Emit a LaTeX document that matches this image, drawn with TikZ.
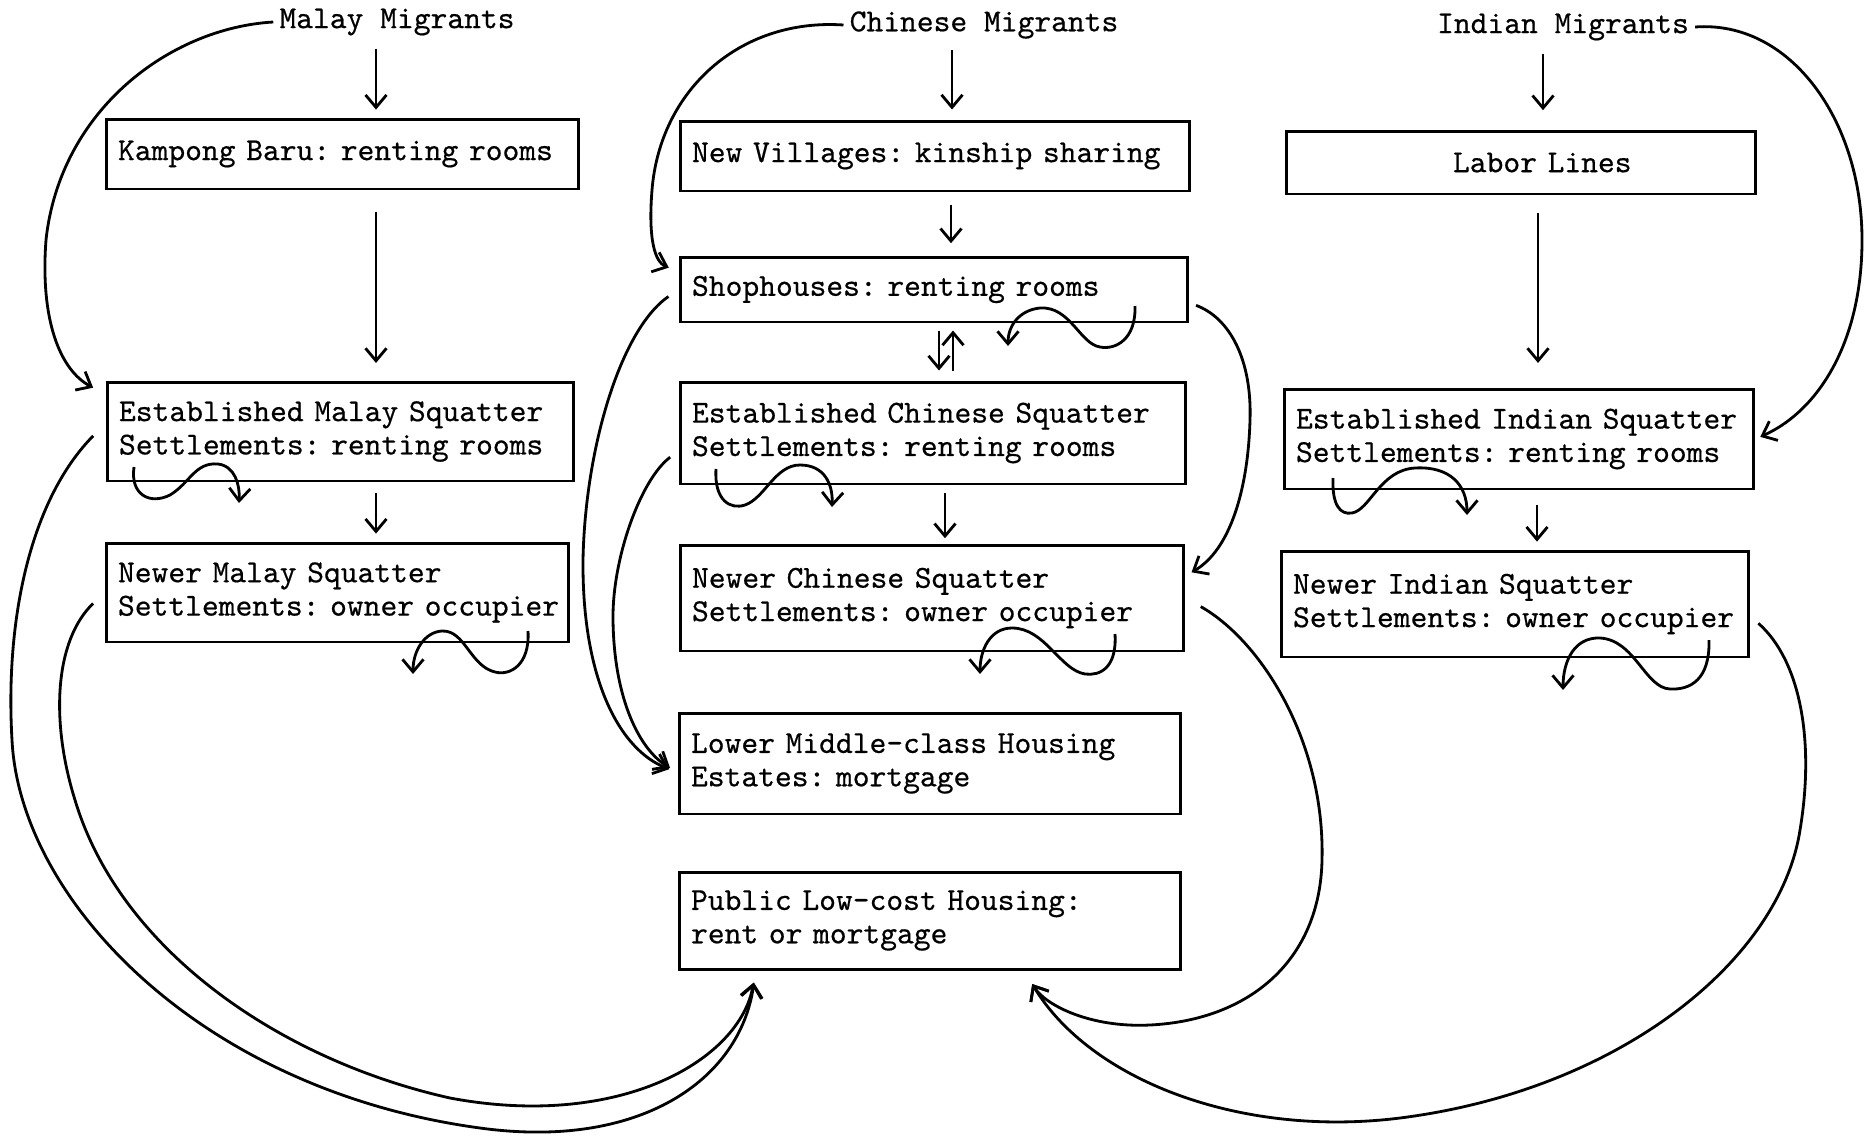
\documentclass[tikz,border=0pt]{standalone}
\usepackage{fontspec}
\setmonofont{lmmono10-regular.otf}[FakeBold=0.5]
\frenchspacing
\usetikzlibrary{arrows.meta}

\begin{document}
\begin{tikzpicture}[x=0.02cm, y=-0.02cm,
    every node/.style={font=\ttfamily\fontsize{18.2}{19}\selectfont},
    house/.style={draw, line width=1.7pt, align=left, inner xsep=0.24cm, inner ysep=0pt},
    flow/.style={line width=1.6pt, -{Straight Barb[length=2.5mm, width=4.2mm]}, shorten <=5pt, shorten >=5pt},
    wiggle/.style={line width=1.6pt, -{Straight Barb[length=2.5mm, width=4.2mm]}}]
\useasboundingbox (0,0) rectangle (1871,1139);

\node (malaymig) at (397,22) {Malay Migrants};
\node (chinmig) at (984,25) {Chinese Migrants};
\node (indmig) at (1563,27) {Indian Migrants};

\node[house, text width=8.98cm, minimum height=1.4cm] (kampong) at (342.5,154) {\mbox{Kampong Baru: renting rooms}};
\node[house, text width=8.86cm, minimum height=1.98cm] (estmalay) at (340.5,431.5) {\mbox{Established Malay Squatter}\\\mbox{Settlements: renting rooms}};
\node[house, text width=8.78cm, minimum height=1.98cm] (newmalay) at (337.5,592.5) {\mbox{Newer Malay Squatter}\\\mbox{Settlements: owner occupier}};

\node[house, text width=9.72cm, minimum height=1.4cm] (newvill) at (935,156) {\mbox{New Villages: kinship sharing}};
\node[house, text width=9.68cm, minimum height=1.3cm] (shop) at (934,289.5) {\mbox{Shophouses: renting rooms}};
\node[house, text width=9.64cm, minimum height=2.04cm] (estchin) at (933,433) {\mbox{Established Chinese Squatter}\\\mbox{Settlements: renting rooms}};
\node[house, text width=9.6cm, minimum height=2.12cm] (newchin) at (932,598) {\mbox{Newer Chinese Squatter}\\\mbox{Settlements: owner occupier}};
\node[house, text width=9.56cm, minimum height=2.02cm] (lower) at (930,763.5) {\mbox{Lower Middle-class Housing}\\\mbox{Estates: mortgage}};
\node[house, text width=9.56cm, minimum height=1.94cm] (public) at (930,920.5) {\mbox{Public Low-cost Housing:}\\\mbox{rent or mortgage}};

\node[house, text width=8.92cm, minimum height=1.26cm] (labor) at (1521,162.5) {\hspace*{3.1cm}Labor Lines};
\node[house, text width=8.92cm, minimum height=2.0cm] (estind) at (1519,439) {\mbox{Established Indian Squatter}\\\mbox{Settlements: renting rooms}};
\node[house, text width=8.88cm, minimum height=2.12cm] (newind) at (1515,604) {\mbox{Newer Indian Squatter}\\\mbox{Settlements: owner occupier}};

\draw[flow, shorten <=4pt, shorten >=4.5pt] ([xshift=-0.42cm]malaymig.south) -- ([xshift=-0.42cm]malaymig.south |- kampong.north);
\draw[flow, shorten <=12pt, shorten >=10pt] ([xshift=0.67cm]kampong.south) -- ([xshift=0.67cm]kampong.south |- estmalay.north);
\draw[flow, shorten <=6pt, shorten >=4.5pt] ([xshift=0.71cm]estmalay.south) -- ([xshift=0.71cm]estmalay.south |- newmalay.north);

\draw[flow, shorten <=3pt, shorten >=5.7pt] ([xshift=-0.64cm]chinmig.south) -- ([xshift=-0.64cm]chinmig.south |- newvill.north);
\draw[flow, shorten <=7pt, shorten >=7pt] ([xshift=0.32cm]newvill.south) -- ([xshift=0.32cm]newvill.south |- shop.north);
\draw[flow, shorten <=4pt, shorten >=5.7pt] ([xshift=0.1cm]shop.south) -- ([xshift=0.1cm]shop.south |- estchin.north);
\draw[flow, shorten <=5.7pt, shorten >=4pt] ([xshift=0.4cm]estchin.north) -- ([xshift=0.4cm]estchin.north |- shop.south);
\draw[flow, shorten <=4.5pt, shorten >=3pt] ([xshift=0.24cm]estchin.south) -- ([xshift=0.24cm]estchin.south |- newchin.north);

\draw[flow, shorten <=4pt, shorten >=11pt] ([xshift=-0.4cm]indmig.south) -- ([xshift=-0.4cm]indmig.south |- labor.north);
\draw[flow, shorten <=10pt, shorten >=14pt] ([xshift=0.34cm]labor.south) -- ([xshift=0.34cm]labor.south |- estind.north);
\draw[flow, shorten <=8pt, shorten >=4.5pt] ([xshift=0.36cm]estind.south) -- ([xshift=0.36cm]estind.south |- newind.north);

\draw[flow, shorten <=0pt, shorten >=8pt] (malaymig.west) .. controls (170,28) and (60,110) .. (46,240) .. controls (40,320) and (60,370) .. (estmalay.171);
\draw[flow, shorten <=0pt, shorten >=6pt] (chinmig.west) .. controls (740,18) and (660,90) .. (652,190) .. controls (648,240) and (655,262) .. (shop.176);
\draw[flow, shorten <=0pt, shorten >=3pt] (indmig.east) .. controls (1790,20) and (1862,120) .. (1862,240) .. controls (1862,340) and (1820,410) .. (estind.east);

\draw[flow, shorten <=7pt, shorten >=5pt] (shop.west) .. controls (620,330) and (585,450) .. (583,560) .. controls (582,680) and (620,750) .. (lower.182);
\draw[flow, shorten <=6pt, shorten >=5pt] (estchin.184) .. controls (640,480) and (612,560) .. (613,620) .. controls (614,700) and (640,750) .. (lower.182);
\draw[flow, shorten <=4pt, shorten >=4pt] (shop.-3) .. controls (1230,318) and (1252,360) .. (1250,420) .. controls (1248,490) and (1230,550) .. (newchin.5);

\draw[flow, shorten <=10pt, shorten >=9pt] (newchin.east) .. controls (1260,640) and (1325,740) .. (1322,860) .. controls (1320,960) and (1250,1020) .. (1150,1025) .. controls (1090,1028) and (1045,1005) .. (public.-28);
\draw[flow, shorten <=6pt, shorten >=9pt] (newind.-3) .. controls (1800,660) and (1815,740) .. (1800,830) .. controls (1780,960) and (1620,1090) .. (1400,1118) .. controls (1240,1138) and (1090,1080) .. (public.-28);

\draw[flow, shorten <=10pt, shorten >=7pt] (estmalay.178) .. controls (30,500) and (5,620) .. (12,740) .. controls (20,900) and (200,1090) .. (480,1128) .. controls (640,1150) and (740,1080) .. (public.196);
\draw[flow, shorten <=9pt, shorten >=7pt] (newmalay.west) .. controls (55,640) and (50,720) .. (75,800) .. controls (120,950) and (280,1060) .. (450,1098) .. controls (620,1130) and (740,1060) .. (public.196);

\draw[wiggle] (134,467) .. controls (130,495) and (150,505) .. (170,495) .. controls (190,483) and (195,462) .. (218,464) .. controls (235,466) and (240,485) .. (239,503);
\draw[wiggle] (528,631) .. controls (530,665) and (510,676) .. (495,672) .. controls (470,666) and (465,630) .. (442,631) .. controls (425,632) and (413,650) .. (413,674);
\draw[wiggle] (1135,306) .. controls (1136,340) and (1115,350) .. (1100,347) .. controls (1080,344) and (1070,306) .. (1040,308) .. controls (1020,310) and (1008,325) .. (1008,346);
\draw[wiggle] (716,469) .. controls (714,500) and (730,510) .. (745,505) .. controls (765,498) and (775,465) .. (800,465) .. controls (825,465) and (833,485) .. (832,507);
\draw[wiggle] (1115,634) .. controls (1117,668) and (1100,676) .. (1085,674) .. controls (1060,670) and (1045,628) .. (1012,628) .. controls (990,628) and (980,650) .. (980,674);
\draw[wiggle] (1333,478) .. controls (1332,505) and (1340,515) .. (1352,513) .. controls (1370,510) and (1380,470) .. (1415,468) .. controls (1450,466) and (1467,485) .. (1467,515);
\draw[wiggle] (1709,640) .. controls (1710,680) and (1690,690) .. (1670,689) .. controls (1645,688) and (1635,640) .. (1600,638) .. controls (1575,637) and (1563,660) .. (1563,690);
\end{tikzpicture}
\end{document}
